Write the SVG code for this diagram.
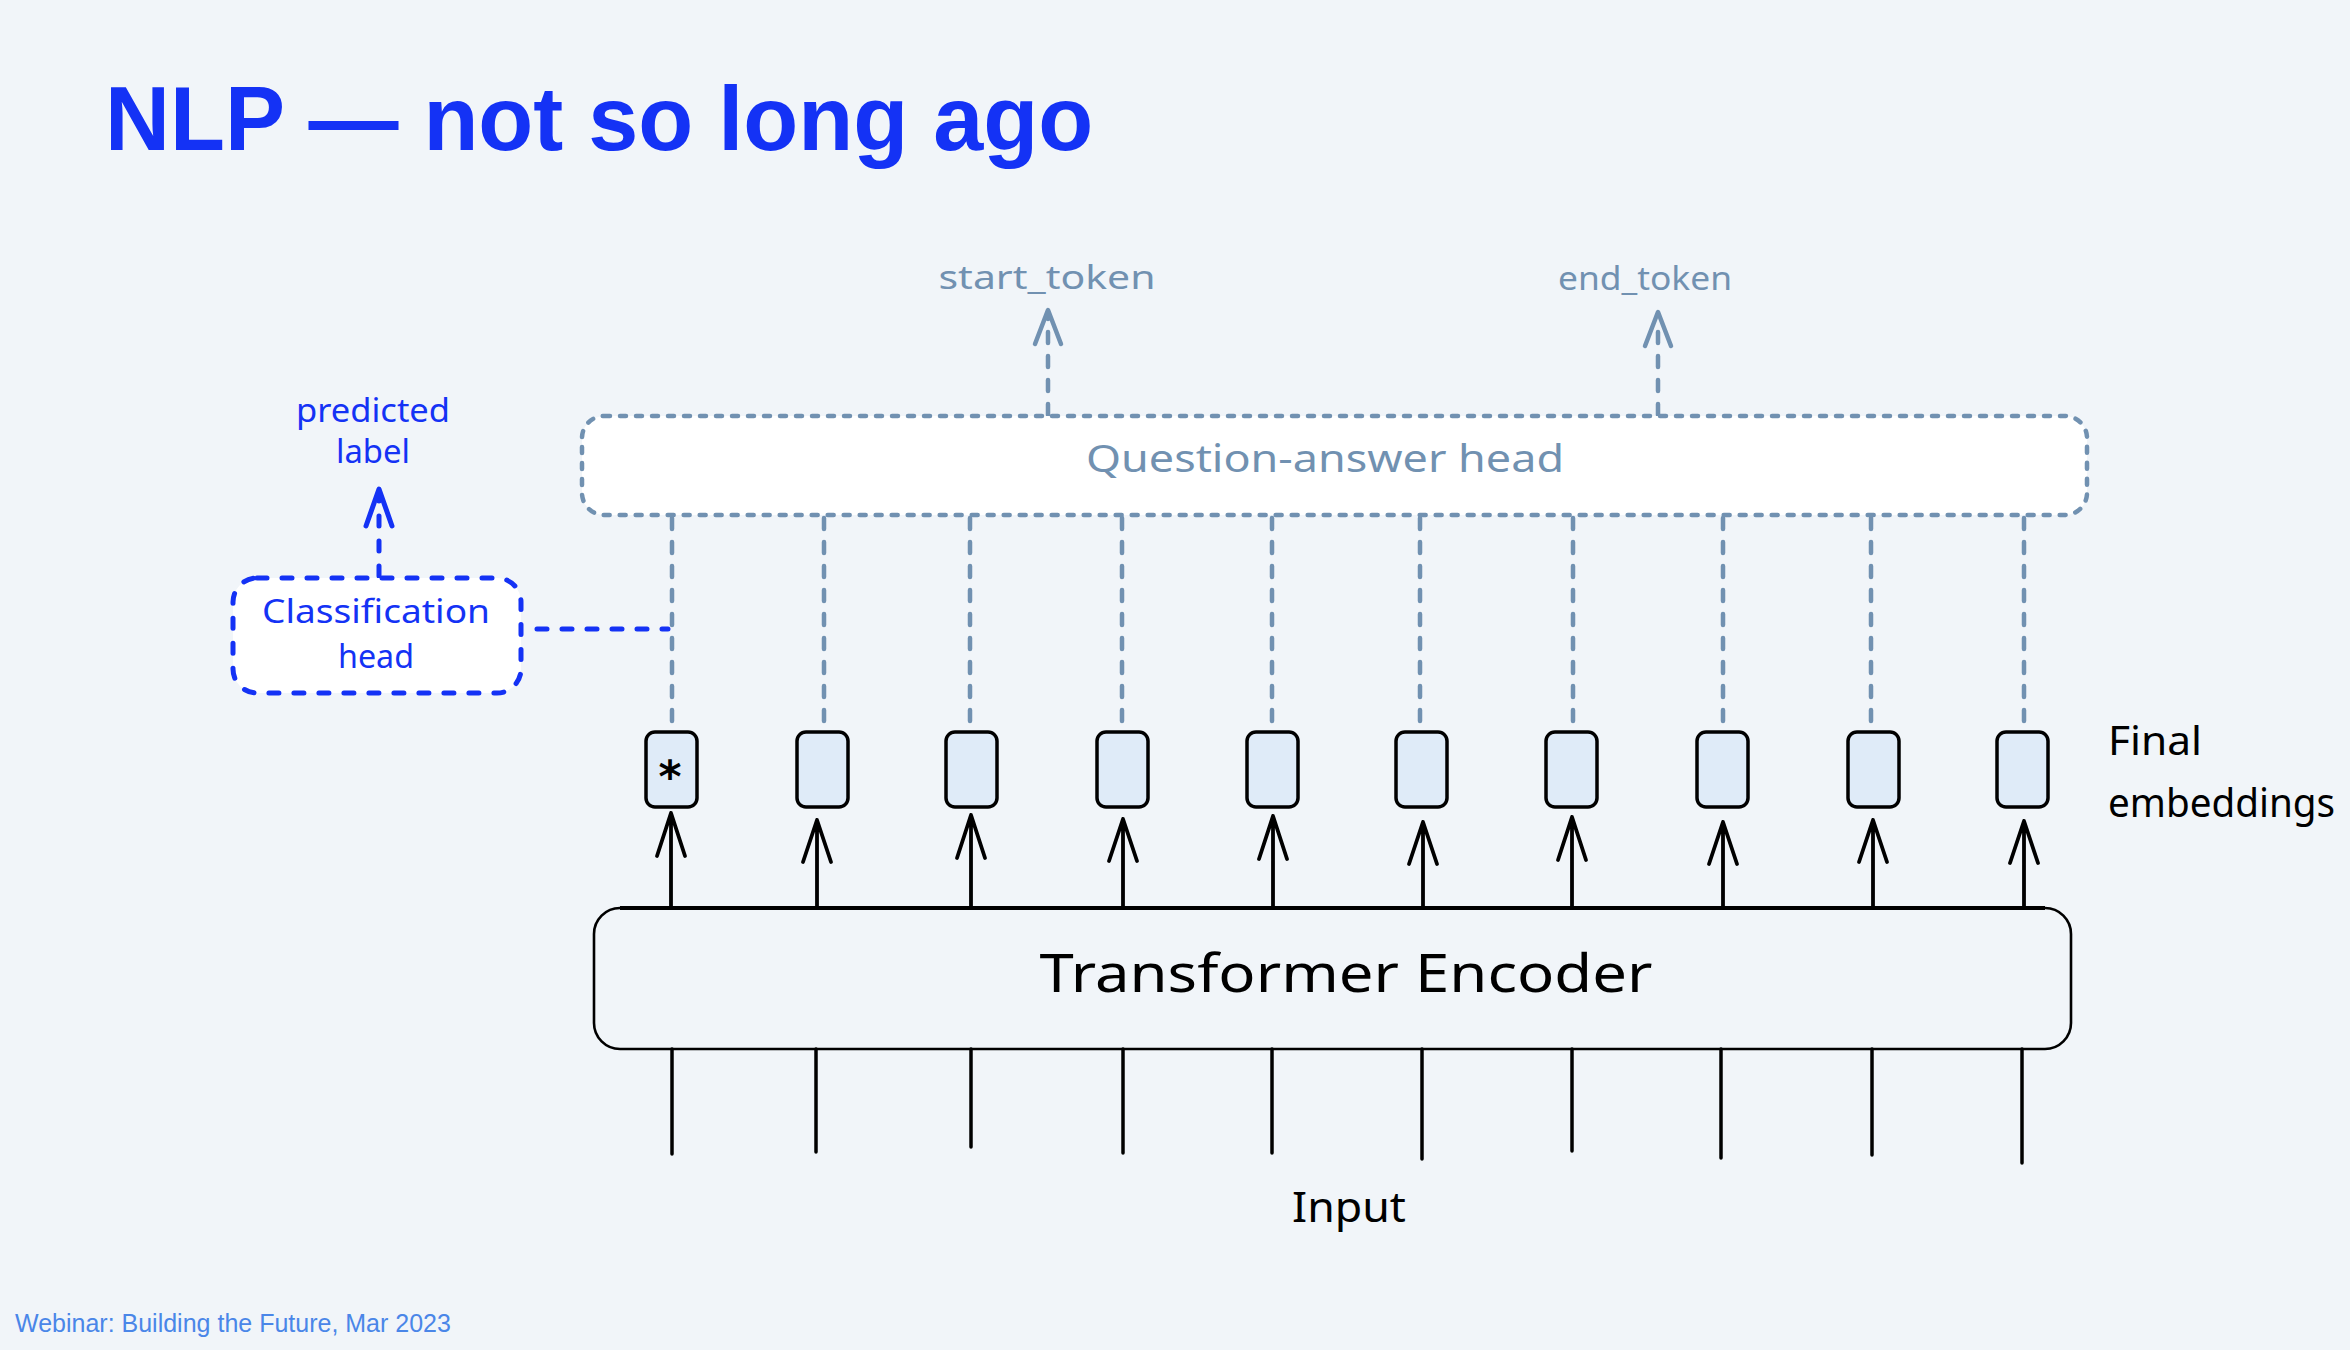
<svg xmlns="http://www.w3.org/2000/svg" width="2350" height="1350" viewBox="0 0 2350 1350">
<style>
.title{font-family:"Liberation Sans",Arial,sans-serif;font-weight:bold;font-size:90px;fill:#1432f5}
.foot{font-family:"Liberation Sans",Arial,sans-serif;font-size:25px;fill:#4a86e8}
.hand{font-family:"Noto Sans","DejaVu Sans",sans-serif}
.gray{fill:#7191b1}
.blue{fill:#1432f5}
.black{fill:#000}
.gdash{fill:none;stroke:#7191b1;stroke-width:4.5;stroke-linecap:round;stroke-dasharray:11 13}
.gbox{fill:#ffffff;stroke:#7191b1;stroke-width:4.5;stroke-linecap:round;stroke-dasharray:6 10}
.bdash{fill:none;stroke:#1432f5;stroke-width:5;stroke-linecap:round;stroke-dasharray:10 15}
.ghead{fill:none;stroke:#7191b1;stroke-width:4.5;stroke-linecap:round;stroke-linejoin:round}
.bhead{fill:none;stroke:#1432f5;stroke-width:5;stroke-linecap:round;stroke-linejoin:round}
.arrow{fill:none;stroke:#000;stroke-width:3.8;stroke-linecap:round;stroke-linejoin:round}
.inp{fill:none;stroke:#000;stroke-width:3.5;stroke-linecap:round}
.emb{fill:#dfebf8;stroke:#000;stroke-width:3.5}
</style>
<rect width="2350" height="1350" fill="#f1f5f9"/>
<text class="title" x="105" y="150">NLP — not so long ago</text>
<text class="foot" x="15" y="1332">Webinar: Building the Future, Mar 2023</text>

<g id="connectors">
  <path class="gdash" d="M1048 415 V318"/>
  <path class="ghead" d="M1035 344 L1048 310 L1061 344"/>
  <path class="gdash" d="M1658 415 V320"/>
  <path class="ghead" d="M1645 346 L1658 312 L1671 346"/>
  <path class="gdash" d="M672 518 V731"/>
  <path class="gdash" d="M824 518 V731"/>
  <path class="gdash" d="M970 518 V731"/>
  <path class="gdash" d="M1122 518 V731"/>
  <path class="gdash" d="M1272 518 V731"/>
  <path class="gdash" d="M1420 518 V731"/>
  <path class="gdash" d="M1573 518 V731"/>
  <path class="gdash" d="M1723 518 V731"/>
  <path class="gdash" d="M1871 518 V731"/>
  <path class="gdash" d="M2024 518 V731"/>
  <path class="bdash" d="M537 629 H668"/>
  <path class="bdash" d="M379 576 V496"/>
  <path class="bhead" d="M366 526 L379 489 L392 526"/>
  <path class="arrow" d="M671 908 V813 M657 856 L671 813 L685 856"/>
  <path class="arrow" d="M817 908 V820 M803 862 L817 820 L831 862"/>
  <path class="arrow" d="M971 908 V815 M957 858 L971 815 L985 858"/>
  <path class="arrow" d="M1123 908 V819 M1109 861 L1123 819 L1137 861"/>
  <path class="arrow" d="M1273 908 V816 M1259 859 L1273 816 L1287 859"/>
  <path class="arrow" d="M1423 908 V822 M1409 864 L1423 822 L1437 864"/>
  <path class="arrow" d="M1572 908 V817 M1558 860 L1572 817 L1586 860"/>
  <path class="arrow" d="M1723 908 V822 M1709 864 L1723 822 L1737 864"/>
  <path class="arrow" d="M1873 908 V820 M1859 862 L1873 820 L1887 862"/>
  <path class="arrow" d="M2024 908 V821 M2010 863 L2024 821 L2038 863"/>
  <path class="inp" d="M672 1049 V1154"/>
  <path class="inp" d="M816 1049 V1152"/>
  <path class="inp" d="M971 1049 V1147"/>
  <path class="inp" d="M1123 1049 V1153"/>
  <path class="inp" d="M1272 1049 V1153"/>
  <path class="inp" d="M1422 1049 V1159"/>
  <path class="inp" d="M1572 1049 V1151"/>
  <path class="inp" d="M1721 1049 V1158"/>
  <path class="inp" d="M1872 1049 V1155"/>
  <path class="inp" d="M2022 1049 V1163"/>
</g>

<g id="qa-head">
  <rect class="gbox" x="582" y="416" width="1505" height="99" rx="22"/>
  <text class="hand gray" x="1325" y="472" font-size="38" text-anchor="middle" textLength="478" lengthAdjust="spacingAndGlyphs">Question-answer head</text>
</g>
<g id="start-token">
  <text class="hand gray" x="1047" y="289" font-size="33" text-anchor="middle" textLength="217" lengthAdjust="spacingAndGlyphs">start_token</text>
</g>
<g id="end-token">
  <text class="hand gray" x="1645" y="290" font-size="33" text-anchor="middle" textLength="174" lengthAdjust="spacingAndGlyphs">end_token</text>
</g>
<g id="classification-head">
  <rect class="bdash" x="233" y="578" width="288" height="115" rx="24" style="fill:#ffffff"/>
  <text class="hand blue" x="376" y="623" font-size="32" text-anchor="middle" textLength="228" lengthAdjust="spacingAndGlyphs">Classification</text>
  <text class="hand blue" x="376" y="668" font-size="32" text-anchor="middle" textLength="76" lengthAdjust="spacingAndGlyphs">head</text>
</g>
<g id="predicted-label">
  <text class="hand blue" x="373" y="422" font-size="32" text-anchor="middle" textLength="154" lengthAdjust="spacingAndGlyphs">predicted</text>
  <text class="hand blue" x="373" y="463" font-size="32" text-anchor="middle" textLength="74" lengthAdjust="spacingAndGlyphs">label</text>
</g>
<g id="embeddings">
  <rect class="emb" x="646" y="732" width="51" height="75" rx="9"/>
  <text class="black" x="670" y="792" font-family="DejaVu Sans,sans-serif" font-weight="bold" font-size="44" text-anchor="middle">*</text>
  <rect class="emb" x="797" y="732" width="51" height="75" rx="9"/>
  <rect class="emb" x="946" y="732" width="51" height="75" rx="9"/>
  <rect class="emb" x="1097" y="732" width="51" height="75" rx="9"/>
  <rect class="emb" x="1247" y="732" width="51" height="75" rx="9"/>
  <rect class="emb" x="1396" y="732" width="51" height="75" rx="9"/>
  <rect class="emb" x="1546" y="732" width="51" height="75" rx="9"/>
  <rect class="emb" x="1697" y="732" width="51" height="75" rx="9"/>
  <rect class="emb" x="1848" y="732" width="51" height="75" rx="9"/>
  <rect class="emb" x="1997" y="732" width="51" height="75" rx="9"/>
</g>
<g id="final-embeddings">
  <text class="hand black" x="2108" y="755" font-size="40" textLength="94" lengthAdjust="spacingAndGlyphs">Final</text>
  <text class="hand black" x="2108" y="817" font-size="40" textLength="227" lengthAdjust="spacingAndGlyphs">embeddings</text>
</g>
<g id="transformer-encoder">
  <rect x="594" y="908" width="1477" height="141" rx="26" fill="none" stroke="#000" stroke-width="2.6"/>
  <path d="M620 908 H2045" stroke="#000" stroke-width="4" fill="none"/>
  <text class="hand black" x="1346" y="992" font-size="53" text-anchor="middle" textLength="613" lengthAdjust="spacingAndGlyphs">Transformer Encoder</text>
</g>
<g id="input">
  <text class="hand black" x="1349" y="1222" font-size="42" text-anchor="middle" textLength="114" lengthAdjust="spacingAndGlyphs">Input</text>
</g>
</svg>
